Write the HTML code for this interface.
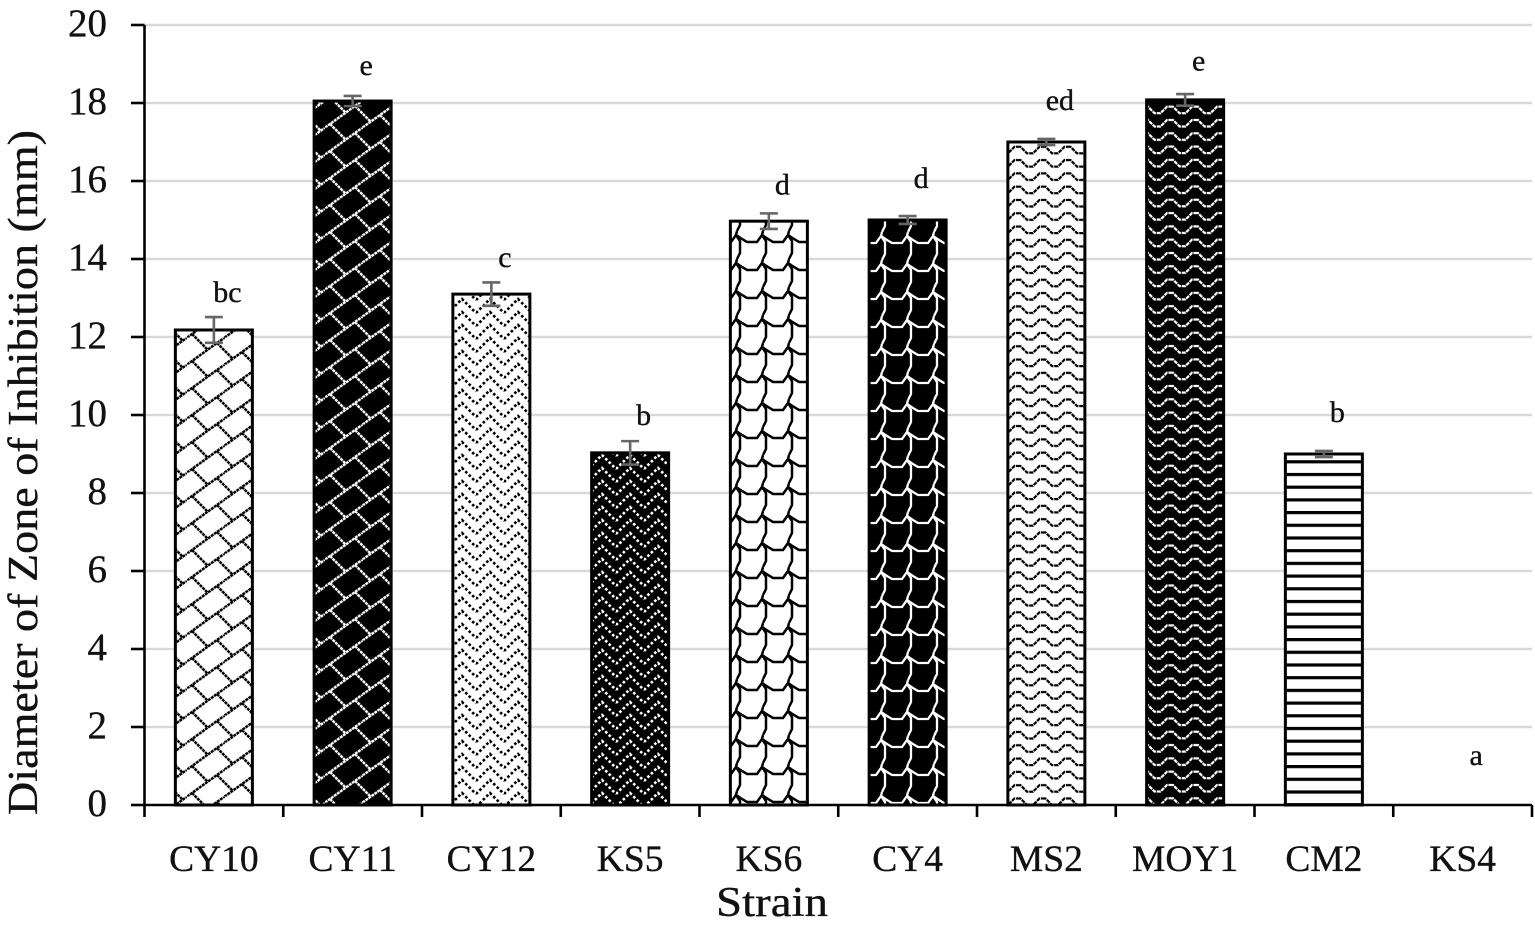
<!DOCTYPE html>
<html>
<head>
<meta charset="utf-8">
<title>Diameter of Zone of Inhibition by Strain</title>
<style>
html,body{margin:0;padding:0;background:#fff;width:1535px;height:928px;overflow:hidden}
svg{display:block}
text{font-family:"Liberation Serif",serif;fill:#111;stroke:#111;stroke-width:.35}
</style>
</head>
<body>
<svg id="chart" xmlns="http://www.w3.org/2000/svg" width="1535" height="928" viewBox="0 0 1535 928">
<defs>
<pattern id="p0" patternUnits="userSpaceOnUse" width="75" height="27" x="37" y="13.6">
<rect width="75" height="27" fill="#fff"/>
<path d="M0 27L37.500 0M37.500 27L75 0M5 23.400L20.700 39.100M5 -3.600L20.700 12.100M30 5.400L45.700 21.100M55 14.400L70.700 30.100M55 -12.600L70.700 3.100" stroke="#000" stroke-width="2.5" fill="none" stroke-dasharray="3 .7"/>
</pattern>
<pattern id="p1" patternUnits="userSpaceOnUse" width="75" height="27" x="25" y="19.6">
<rect width="75" height="27" fill="#000"/>
<path d="M0 27L37.500 0M37.500 27L75 0M5 23.400L20.700 39.100M5 -3.600L20.700 12.100M30 5.400L45.700 21.100M55 14.400L70.700 30.100M55 -12.600L70.700 3.100" stroke="#fff" stroke-width="2.4" fill="none" stroke-dasharray="3 .7"/>
</pattern>
<pattern id="p2" patternUnits="userSpaceOnUse" width="28" height="26">
<rect width="28" height="26" fill="#fff"/>
<path d="M0 14L14 0L28 14M0 27L14 13L28 27M0 1L14 -13L28 1M0 40L14 26L28 40" stroke="#000" stroke-width="2.6" fill="none" stroke-dasharray="2.6 2.3"/>
</pattern>
<pattern id="p3" patternUnits="userSpaceOnUse" width="28" height="26">
<rect width="28" height="26" fill="#000"/>
<path d="M0 14L14 0L28 14M0 27L14 13L28 27M0 1L14 -13L28 1M0 40L14 26L28 40" stroke="#fff" stroke-width="2.6" fill="none" stroke-dasharray="2.6 2.3"/>
</pattern>
<pattern id="p4" patternUnits="userSpaceOnUse" width="26" height="28" x="24" y="7">
<rect width="26" height="28" fill="#fff"/>
<path d="M0 11L5 11L10 4L16 8L21 11L26 11M10 4L14 10L14 22L11 28M11 0L10 4" stroke="#000" stroke-width="2.5" fill="none"/>
</pattern>
<pattern id="p5" patternUnits="userSpaceOnUse" width="26" height="28" x="13" y="8">
<rect width="26" height="28" fill="#000"/>
<path d="M0 11L5 11L10 4L16 8L21 11L26 11M10 4L14 10L14 22L11 28M11 0L10 4" stroke="#fff" stroke-width="2.3" fill="none"/>
</pattern>
<pattern id="p6" patternUnits="userSpaceOnUse" width="25" height="13.300" x="17.500" y="12.300">
<rect width="25" height="14" fill="#fff"/>
<path d="M0 1.500L3 1.500L9.500 8L15.500 8L22 1.500L25 1.500" stroke="#000" stroke-width="2.2" fill="none" stroke-dasharray="4 .8"/>
</pattern>
<pattern id="p7" patternUnits="userSpaceOnUse" width="25" height="13.300" x="20" y="12.100">
<rect width="25" height="14" fill="#000"/>
<path d="M0 1.500L3 1.500L9.500 8L15.500 8L22 1.500L25 1.500" stroke="#fff" stroke-width="2.2" fill="none" stroke-dasharray="4 .8"/>
</pattern>
<pattern id="p8" patternUnits="userSpaceOnUse" width="26" height="12.700" x="0" y="3">
<rect width="26" height="13" fill="#fff"/>
<rect y="0" width="26" height="3.200" fill="#000"/>
</pattern>
</defs>
<g id="grid"></g>
<g id="bars"></g>
<g id="axes"></g>
<text transform="translate(37,815) rotate(-90)" font-size="42" textLength="685" lengthAdjust="spacingAndGlyphs">Diameter of Zone of Inhibition (mm)</text>
<text x="772" y="916" font-size="42" text-anchor="middle" textLength="112" lengthAdjust="spacingAndGlyphs">Strain</text>
</svg>
<script>
const categories = ['CY10','CY11','CY12','KS5','KS6','CY4','MS2','MOY1','CM2','KS4'];
const values = [12.18,18.05,13.1,9.03,14.97,15,17,18.08,9,0];
const errors = [0.33,0.13,0.3,0.3,0.2,0.1,0.08,0.15,0.08,0];
const letters = ['bc','e','c','b','d','d','ed','e','b','a'];
const letterClearance = [0.72,0.67,0.69,0.72,0.69,0.82,0.82,0.75,0.82,1.02];
const yTicks = [0,2,4,6,8,10,12,14,16,18,20];

const NS = 'http://www.w3.org/2000/svg';
const plotLeft = 144.5, plotRight = 1532, plotBottom = 805, plotTop = 25;
const yMax = 20;
const band = (plotRight - plotLeft) / categories.length;
const barWidth = 77;
function yScale(v){ return plotBottom - (v / yMax) * (plotBottom - plotTop); }
function xCenter(i){ return plotLeft + band * (i + 0.5); }
function make(tag, attrs, parent){
  const el = document.createElementNS(NS, tag);
  for (const k in attrs) el.setAttribute(k, attrs[k]);
  parent.appendChild(el);
  return el;
}
const gridG = document.getElementById('grid');
const barsG = document.getElementById('bars');
const axesG = document.getElementById('axes');

yTicks.forEach(function(t){
  if (t !== 0) {
    const g = make('line', {x1:plotLeft, x2:plotRight, y1:yScale(t), y2:yScale(t), stroke:'#d9d9d9', 'stroke-width':2.6}, gridG);
    
    
  }
  const tick = make('line', {x1:131, x2:plotLeft, y1:yScale(t), y2:yScale(t), stroke:'#000', 'stroke-width':2.6}, axesG);
  
  
  const lab = make('text', {x:107, y:yScale(t) + 11, 'font-size':39, 'text-anchor':'end'}, axesG);
  lab.textContent = t;
  
  
});

categories.forEach(function(c, i){
  const cx = xCenter(i);
  if (values[i] > 0) {
    const bar = make('rect', {x:cx - barWidth / 2, y:yScale(values[i]), width:barWidth, height:plotBottom - yScale(values[i]), fill:'url(#p' + i + ')', stroke:'#000', 'stroke-width':3}, barsG);
    
    
    const hi = yScale(values[i] + errors[i]), lo = yScale(values[i] - errors[i]);
    const err = make('path', {d:'M' + (cx - 9) + ' ' + hi + 'H' + (cx + 9) + 'M' + cx + ' ' + hi + 'V' + lo + 'M' + (cx - 9) + ' ' + lo + 'H' + (cx + 9), stroke:'#666', 'stroke-width':2.6, fill:'none'}, barsG);
    
    
  }
  const sig = make('text', {x:cx + 13.5, y:yScale(values[i] + letterClearance[i]), 'font-size':30, 'text-anchor':'middle'}, barsG);
  sig.textContent = letters[i];
  
  
  const cat = make('text', {x:cx, y:871, 'font-size':37.5, 'text-anchor':'middle'}, axesG);
  cat.textContent = c;
  
  
});

for (let i = 0; i <= categories.length; i++) {
  const x = plotLeft + band * i;
  const t = make('line', {x1:x, x2:x, y1:plotBottom, y2:817, stroke:'#000', 'stroke-width':2.6}, axesG);
  
  
}
const yAxis = make('line', {x1:plotLeft, x2:plotLeft, y1:plotTop, y2:plotBottom, stroke:'#000', 'stroke-width':2.6}, axesG);


const xAxis = make('line', {x1:plotLeft, x2:plotRight, y1:plotBottom, y2:plotBottom, stroke:'#000', 'stroke-width':2.6}, axesG);


</script>
</body>
</html>
